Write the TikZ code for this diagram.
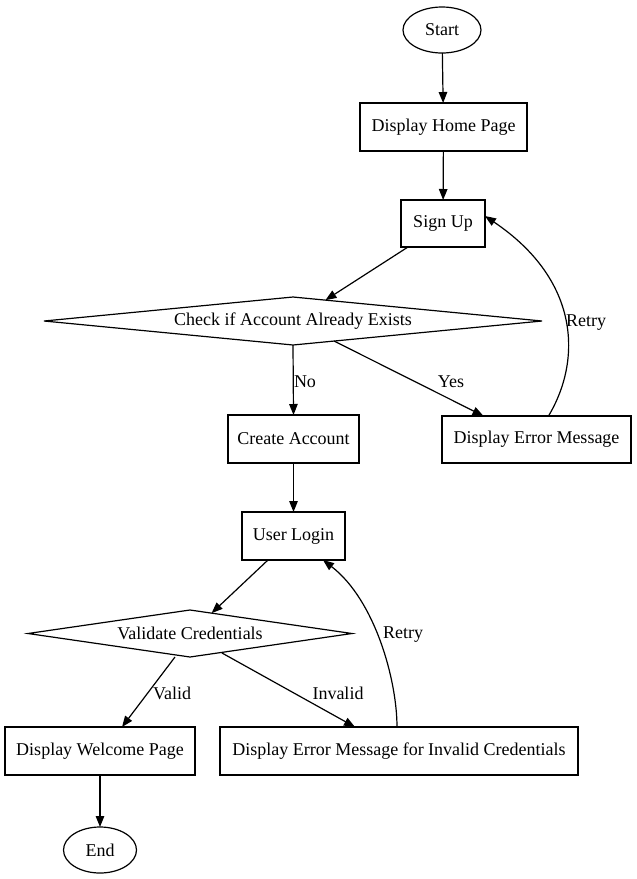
\documentclass[tikz,border=0pt]{standalone}
\usepackage{fontspec}
\setmainfont{Liberation Serif}
\usetikzlibrary{shapes.geometric,arrows.meta}
\tikzset{
  box/.style={draw, line width=1.2pt, rectangle, minimum height=48pt, inner sep=0pt, outer sep=0pt},
  oval/.style={draw, line width=1.2pt, ellipse, inner sep=0pt, outer sep=0pt},
  dia/.style={draw, line width=1.2pt, diamond, aspect=10, inner sep=0pt, outer sep=0pt, minimum height=48pt},
  edge/.style={line width=1.2pt, -{Triangle[length=11pt,width=8.5pt]}},
  lbl/.style={inner sep=0pt}
}
\begin{document}
\begin{tikzpicture}[x=1pt,y=-1pt,font=\fontsize{18}{21}\selectfont]
\useasboundingbox (0,0) rectangle (637,879);
\node[oval, minimum width=78pt, minimum height=46pt] (start) at (442,30) {Start};
\node[box, minimum width=167pt] (home) at (443.5,127) {Display Home Page};
\node[box, minimum width=84pt, minimum height=47pt] (signup) at (443,223.5) {Sign Up};
\node[dia, minimum width=498pt] (check) at (293,321) {Check if Account Already Exists};
\node[box, minimum width=131pt] (create) at (293.5,439) {Create Account};
\node[box, minimum width=189pt, minimum height=47pt] (error) at (536.5,439.5) {Display Error Message};
\node[box, minimum width=103pt] (login) at (293.5,536) {User Login};
\node[dia, minimum width=324pt, minimum height=47pt] (valid) at (190,633.5) {Validate Credentials};
\node[box, minimum width=190pt] (welcome) at (100,751) {Display Welcome Page};
\node[box, minimum width=358pt] (invalid) at (399,751) {Display Error Message for Invalid Credentials};
\node[oval, minimum width=73pt, minimum height=46pt] (end) at (100,850) {End};

\draw[edge] (start) -- (home);
\draw[edge] (home) -- (signup);
\draw[edge] ([xshift=7pt]signup.south west) -- (check);
\draw[edge] (check.south) -- (create.north);
\node[lbl] (lno) at (305,382) {No};
\draw[edge] (check.-26.6) -- ([xshift=-53pt]error.north);
\node[lbl] (lyes) at (451,382) {Yes};
\draw[edge] ([xshift=12pt]error.north) .. controls (582,360) and (580,280) .. ([yshift=-16pt]signup.north east);
\node[lbl, anchor=west] (lretry1) at (566,323) {Retry};
\draw[edge] (create) -- (login);
\draw[edge] ([xshift=-25.5pt]login.south) -- (valid);
\draw[edge] ([xshift=-15pt]valid.south) -- ([xshift=22pt]welcome.north);
\node[lbl] (lvalid) at (172,693) {Valid};
\draw[edge] ([xshift=32pt,yshift=4pt]valid.south) -- ([xshift=-44pt]invalid.north);
\node[lbl] (linv) at (338,693) {Invalid};
\draw[edge] ([xshift=-2pt]invalid.north) .. controls (397,680) and (375,600) .. ([xshift=-22pt]login.south east);
\node[lbl, anchor=west] (lretry2) at (383,635) {Retry};
\draw[edge] (welcome) -- (end);
\end{tikzpicture}
\end{document}
